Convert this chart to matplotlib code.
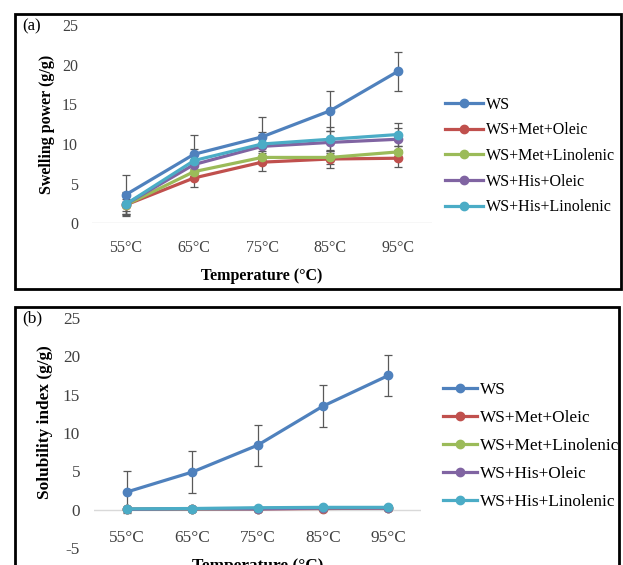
import numpy as np
import matplotlib.pyplot as plt
from matplotlib.patches import Rectangle

plt.rcParams['font.family'] = ['Liberation Serif', 'DejaVu Serif']
plt.rcParams['axes.unicode_minus'] = False

temps = ['55°C', '65°C', '75°C', '85°C', '95°C']
names = ['WS', 'WS+Met+Oleic', 'WS+Met+Linolenic', 'WS+His+Oleic', 'WS+His+Linolenic']
colors = ['#4F81BD', '#C0504D', '#9BBB59', '#8064A2', '#4BACC6']

# swelling power (g/g)
sp_ws = [3.6, 8.7, 10.9, 14.2, 19.2]
sp_met_ole = [2.3, 5.7, 7.7, 8.1, 8.2]
sp_met_lin = [2.3, 6.5, 8.3, 8.3, 9.0]
sp_his_ole = [2.4, 7.4, 9.7, 10.2, 10.6]
sp_his_lin = [2.4, 7.9, 10.0, 10.6, 11.2]
sp_err = [2.5, 1.1, 0.8, 1.4, 1.5]

# solubility index (g/g)
si_ws = [2.3, 4.9, 8.4, 13.5, 17.5]
si_met_ole = [0.05, 0.1, 0.1, 0.15, 0.2]
si_met_lin = [0.05, 0.1, 0.15, 0.2, 0.25]
si_his_ole = [0.05, 0.1, 0.1, 0.2, 0.2]
si_his_lin = [0.1, 0.15, 0.25, 0.3, 0.3]
si_err = [2.7, 0.1, 0.1, 0.1, 0.1]

fig = plt.figure(figsize=(6.23, 5.65), dpi=100)

def panel(ax, series, errs, ylabel, ylim, fs, leg_x, leg_y, spacing, hlen):
    x = np.arange(len(temps))
    ax.axhline(0, color='#d9d9d9', lw=1, zorder=0)
    for s, e in zip(series, errs):
        ax.errorbar(x, s, yerr=e, fmt='none', ecolor='#595959',
                    elinewidth=0.9, capsize=3, capthick=0.9, zorder=1)
    for s, c, n in zip(series, colors, names):
        ax.plot(x, s, color=c, lw=2.3, marker='o', ms=6, label=n, zorder=2)
    ax.set_xlim(-0.5, 4.5)
    ax.set_ylim(*ylim)
    ax.set_yticks(np.arange(ylim[0], 26, 5))
    for sp in ['top', 'right', 'left', 'bottom']:
        ax.spines[sp].set_visible(False)
    ax.set_xticks(x)
    ax.set_xticklabels(temps)
    ax.tick_params(length=0, labelsize=fs, colors='#404040')
    ax.tick_params(axis='y', pad=10)
    ax.set_ylabel(ylabel, fontsize=fs, fontweight='bold', labelpad=5)
    ax.set_facecolor('none')
    ax.legend(loc='center left', bbox_to_anchor=(leg_x, leg_y),
              bbox_transform=fig.transFigure, frameon=False,
              fontsize=fs, handlelength=hlen, handletextpad=0.15,
              labelspacing=spacing, borderaxespad=0, borderpad=0)

ax1 = fig.add_axes([0.1477, 0.6053, 0.5457, 0.3496])
panel(ax1, [sp_ws, sp_met_ole, sp_met_lin, sp_his_ole, sp_his_lin], sp_err,
      'Swelling power (g/g)', (0, 25), 11.5, 0.714, 1 - 156/565, 0.6, 2.4)
ax1.tick_params(axis='x', pad=12)
ax1.set_xlabel('Temperature (°C)', fontsize=11.5, fontweight='bold', labelpad=9)

ax2 = fig.add_axes([0.1509, 0.0301, 0.5249, 0.4071])
panel(ax2, [si_ws, si_met_ole, si_met_lin, si_his_ole, si_his_lin], si_err,
      'Solubility index (g/g)', (-5, 25), 12.4, 0.711, 1 - 446/565, 0.7, 2.0)
ax2.spines['bottom'].set_position(('data', 0))
ax2.tick_params(axis='x', pad=15)
ax2.yaxis.set_label_coords(-0.126, 0.548)
ax2.set_xlabel('Temperature (°C)', fontsize=12.4, fontweight='bold')
ax2.xaxis.set_label_coords(0.5, -0.045)

# panel frames
fig.patches.append(Rectangle((15/623, 1-289/565), 606/623, 275/565, transform=fig.transFigure,
                             fill=False, ec='black', lw=2, zorder=10))
fig.patches.append(Rectangle((620/623, 0), 3/623, 0.46, transform=fig.transFigure,
                             fc='white', ec='none', zorder=9))
fig.patches.append(Rectangle((15/623, -0.1), 604/623, 1-306.5/565+0.1, transform=fig.transFigure,
                             fill=False, ec='black', lw=2, zorder=10))
fig.text(22/623, 1-26/565, '(a)', fontsize=12, va='center', ha='left')
fig.text(22/623, 1-318/565, '(b)', fontsize=12.5, va='center', ha='left')

fig.savefig('out.png', dpi=100)
